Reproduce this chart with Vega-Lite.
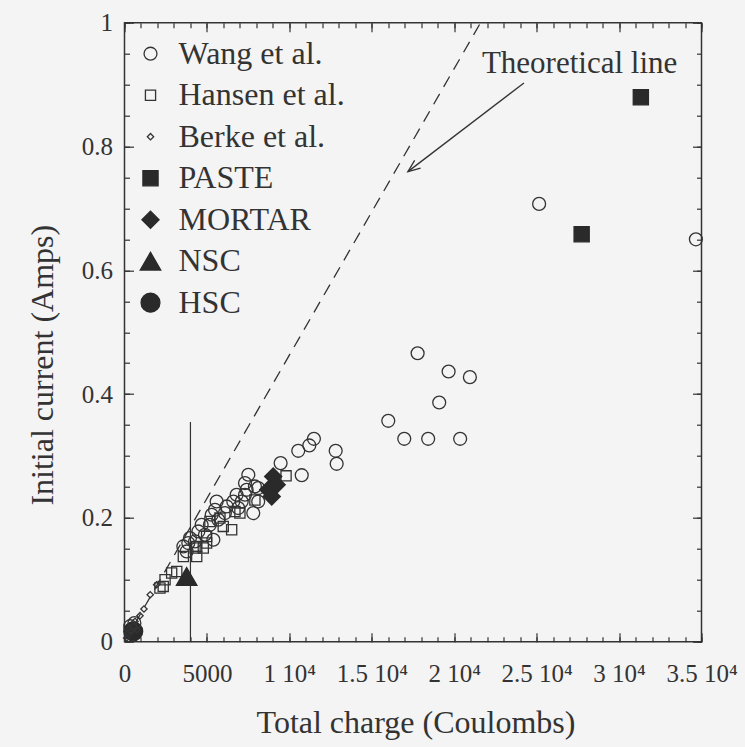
{
  "$schema": "https://vega.github.io/schema/vega-lite/v6.json",
  "width": 577,
  "height": 619,
  "autosize": {"type": "none"},
  "padding": {"left": 124.5, "top": 22.7, "right": 43.5, "bottom": 105.3},
  "background": "#f4f4f4",
  "config": {
    "view": {"stroke": "#333333", "strokeWidth": 1.5},
    "font": "Liberation Serif"
  },
  "datasets": {
    "points": [
      {"series": "HSC", "charge": 530, "current": 0.0166},
      {"series": "Berke et al.", "charge": 1560, "current": 0.0759},
      {"series": "Berke et al.", "charge": 1950, "current": 0.092},
      {"series": "Berke et al.", "charge": 1180, "current": 0.0528},
      {"series": "Berke et al.", "charge": 640, "current": 0.0328},
      {"series": "Berke et al.", "charge": 530, "current": 0.0247},
      {"series": "Berke et al.", "charge": 740, "current": 0.0194},
      {"series": "Berke et al.", "charge": 130, "current": 0.006},
      {"series": "Berke et al.", "charge": 210, "current": 0.013},
      {"series": "Berke et al.", "charge": 330, "current": 0.0226},
      {"series": "Berke et al.", "charge": 940, "current": 0.042},
      {"series": "Berke et al.", "charge": 390, "current": 0.016},
      {"series": "Wang et al.", "charge": 7510, "current": 0.2697},
      {"series": "Wang et al.", "charge": 7310, "current": 0.2563},
      {"series": "Wang et al.", "charge": 7910, "current": 0.2508},
      {"series": "Wang et al.", "charge": 7410, "current": 0.2454},
      {"series": "Wang et al.", "charge": 6800, "current": 0.2374},
      {"series": "Wang et al.", "charge": 7310, "current": 0.2374},
      {"series": "Wang et al.", "charge": 6600, "current": 0.2265},
      {"series": "Wang et al.", "charge": 7110, "current": 0.2265},
      {"series": "Wang et al.", "charge": 8110, "current": 0.2265},
      {"series": "Wang et al.", "charge": 5590, "current": 0.2265},
      {"series": "Wang et al.", "charge": 5490, "current": 0.2131},
      {"series": "Wang et al.", "charge": 6200, "current": 0.2185},
      {"series": "Wang et al.", "charge": 6900, "current": 0.2159},
      {"series": "Wang et al.", "charge": 7810, "current": 0.2078},
      {"series": "Wang et al.", "charge": 5290, "current": 0.2051},
      {"series": "Wang et al.", "charge": 6090, "current": 0.2078},
      {"series": "Wang et al.", "charge": 5690, "current": 0.197},
      {"series": "Wang et al.", "charge": 5180, "current": 0.1889},
      {"series": "Wang et al.", "charge": 4680, "current": 0.1889},
      {"series": "Wang et al.", "charge": 4480, "current": 0.1781},
      {"series": "Wang et al.", "charge": 5390, "current": 0.1647},
      {"series": "Wang et al.", "charge": 4880, "current": 0.1728},
      {"series": "Wang et al.", "charge": 3970, "current": 0.1674},
      {"series": "Wang et al.", "charge": 3870, "current": 0.1594},
      {"series": "Wang et al.", "charge": 4280, "current": 0.162},
      {"series": "Wang et al.", "charge": 3570, "current": 0.1539},
      {"series": "Wang et al.", "charge": 3770, "current": 0.1458},
      {"series": "Wang et al.", "charge": 9470, "current": 0.2885},
      {"series": "Wang et al.", "charge": 10540, "current": 0.3084},
      {"series": "Wang et al.", "charge": 10750, "current": 0.269},
      {"series": "Wang et al.", "charge": 11210, "current": 0.317},
      {"series": "Wang et al.", "charge": 11490, "current": 0.3278},
      {"series": "Wang et al.", "charge": 12810, "current": 0.3084},
      {"series": "Wang et al.", "charge": 12870, "current": 0.2874},
      {"series": "Wang et al.", "charge": 16000, "current": 0.3569},
      {"series": "Wang et al.", "charge": 16970, "current": 0.3278},
      {"series": "Wang et al.", "charge": 18420, "current": 0.3278},
      {"series": "Wang et al.", "charge": 20360, "current": 0.3278},
      {"series": "Wang et al.", "charge": 19090, "current": 0.3864},
      {"series": "Wang et al.", "charge": 17780, "current": 0.466},
      {"series": "Wang et al.", "charge": 19660, "current": 0.4365},
      {"series": "Wang et al.", "charge": 20950, "current": 0.4274},
      {"series": "Wang et al.", "charge": 25150, "current": 0.7073},
      {"series": "Wang et al.", "charge": 34660, "current": 0.65},
      {"series": "Wang et al.", "charge": 8110, "current": 0.2482},
      {"series": "Wang et al.", "charge": 350, "current": 0.025},
      {"series": "Wang et al.", "charge": 600, "current": 0.03},
      {"series": "Hansen et al.", "charge": 7000, "current": 0.2078},
      {"series": "Hansen et al.", "charge": 6700, "current": 0.2104},
      {"series": "Hansen et al.", "charge": 5790, "current": 0.1997},
      {"series": "Hansen et al.", "charge": 5180, "current": 0.1942},
      {"series": "Hansen et al.", "charge": 5990, "current": 0.1862},
      {"series": "Hansen et al.", "charge": 6500, "current": 0.1808},
      {"series": "Hansen et al.", "charge": 4980, "current": 0.17},
      {"series": "Hansen et al.", "charge": 4980, "current": 0.1594},
      {"series": "Hansen et al.", "charge": 4380, "current": 0.1539},
      {"series": "Hansen et al.", "charge": 4380, "current": 0.1377},
      {"series": "Hansen et al.", "charge": 3570, "current": 0.1377},
      {"series": "Hansen et al.", "charge": 3170, "current": 0.1135},
      {"series": "Hansen et al.", "charge": 2460, "current": 0.1001},
      {"series": "Hansen et al.", "charge": 2350, "current": 0.0893},
      {"series": "Hansen et al.", "charge": 9800, "current": 0.268},
      {"series": "Hansen et al.", "charge": 4280, "current": 0.1513},
      {"series": "Hansen et al.", "charge": 4780, "current": 0.1513},
      {"series": "Hansen et al.", "charge": 2150, "current": 0.0867},
      {"series": "Hansen et al.", "charge": 2860, "current": 0.1109},
      {"series": "Hansen et al.", "charge": 7910, "current": 0.229},
      {"series": "PASTE", "charge": 31320, "current": 0.8795},
      {"series": "PASTE", "charge": 27730, "current": 0.6583},
      {"series": "MORTAR", "charge": 9020, "current": 0.2669},
      {"series": "MORTAR", "charge": 9230, "current": 0.2535},
      {"series": "MORTAR", "charge": 8720, "current": 0.2454},
      {"series": "MORTAR", "charge": 8930, "current": 0.2346},
      {"series": "NSC", "charge": 3770, "current": 0.1054}
    ],
    "theory": [
      {"charge": 0, "current": 0},
      {"charge": 21600, "current": 1}
    ],
    "arrow": [
      {"charge": 24230, "current": 0.9026},
      {"charge": 17190, "current": 0.7594}
    ],
    "arrowhead": [
      {"charge": 17190, "current": 0.7594}
    ],
    "vline": [
      {"charge": 4000, "current": 0, "current2": 0.355}
    ],
    "note": [
      {"charge": 21680, "current": 0.918, "label": "Theoretical line"}
    ]
  },
  "layer": [
    {
      "data": {"name": "theory"},
      "mark": {"type": "line", "stroke": "#333333", "strokeWidth": 1.3, "strokeDash": [12, 8], "clip": true},
      "encoding": {
        "x": {
          "field": "charge", "type": "quantitative",
          "scale": {"domain": [0, 35000], "nice": false, "zero": false},
          "axis": {
            "orient": "top", "title": null, "labels": false, "grid": false, "domain": false,
            "tickSize": -5, "tickColor": "#333333", "tickWidth": 1.2,
            "values": [0,1000,2000,3000,4000,5000,6000,7000,8000,9000,10000,11000,12000,13000,14000,15000,16000,17000,18000,19000,20000,21000,22000,23000,24000,25000,26000,27000,28000,29000,30000,31000,32000,33000,34000,35000]
          }
        },
        "y": {
          "field": "current", "type": "quantitative",
          "scale": {"domain": [0, 1], "nice": false, "zero": false},
          "axis": {
            "orient": "right", "title": null, "labels": false, "grid": false, "domain": false,
            "tickSize": -5, "tickColor": "#333333", "tickWidth": 1.2,
            "values": [0,0.05,0.1,0.15,0.2,0.25,0.3,0.35,0.4,0.45,0.5,0.55,0.6,0.65,0.7,0.75,0.8,0.85,0.9,0.95,1]
          }
        }
      }
    },
    {
      "data": {"name": "vline"},
      "mark": {"type": "rule", "stroke": "#333333", "strokeWidth": 1.2},
      "encoding": {
        "x": {
          "field": "charge", "type": "quantitative",
          "axis": {"orient": "bottom", "title": null, "labels": false, "grid": false, "domain": false, "tickSize": -9, "tickColor": "#333333", "tickWidth": 1.2, "values": [0,5000,10000,15000,20000,25000,30000,35000]}
        },
        "y": {
          "field": "current", "type": "quantitative",
          "axis": {"orient": "left", "title": null, "labels": false, "grid": false, "domain": false, "tickSize": -9, "tickColor": "#333333", "tickWidth": 1.2, "values": [0,0.2,0.4,0.6,0.8,1]}
        },
        "y2": {"field": "current2"}
      }
    },
    {
      "data": {"name": "arrow"},
      "mark": {"type": "line", "stroke": "#333333", "strokeWidth": 1.3},
      "encoding": {
        "x": {
          "field": "charge", "type": "quantitative",
          "axis": {"orient": "top", "title": null, "labels": false, "grid": false, "domain": false, "tickSize": -9, "tickColor": "#333333", "tickWidth": 1.2, "values": [0,5000,10000,15000,20000,25000,30000,35000]}
        },
        "y": {
          "field": "current", "type": "quantitative",
          "axis": {"orient": "right", "title": null, "labels": false, "grid": false, "domain": false, "tickSize": -9, "tickColor": "#333333", "tickWidth": 1.2, "values": [0,0.2,0.4,0.6,0.8,1]}
        }
      }
    },
    {
      "data": {"name": "arrowhead"},
      "mark": {"type": "point", "shape": "M -1 -0.4 L 0 0 L -1 0.4", "filled": false, "stroke": "#333333", "strokeWidth": 1.3, "size": 600, "angle": 142.6, "opacity": 1},
      "encoding": {
        "x": {"field": "charge", "type": "quantitative", "axis": null},
        "y": {"field": "current", "type": "quantitative", "axis": null}
      }
    },
    {
      "data": {"name": "note"},
      "mark": {"type": "text", "align": "left", "baseline": "alphabetic", "font": "Liberation Serif", "fontSize": 31, "fill": "#333333"},
      "encoding": {
        "x": {"field": "charge", "type": "quantitative", "axis": null},
        "y": {"field": "current", "type": "quantitative", "axis": null},
        "text": {"field": "label"}
      }
    },
    {
      "data": {"name": "points"},
      "mark": {"type": "point", "filled": true, "strokeWidth": 1.3, "opacity": 1},
      "encoding": {
        "x": {
          "field": "charge", "type": "quantitative",
          "scale": {"domain": [0, 35000], "nice": false, "zero": false},
          "axis": {
            "orient": "bottom",
            "grid": false,
            "domain": false,
            "title": "Total charge (Coulombs)",
            "titleFont": "Liberation Serif",
            "titleFontWeight": "normal",
            "titleColor": "#333333",
            "titleFontSize": 32,
            "titleX": 291,
            "titleY": 91,
            "titleBaseline": "alphabetic",
            "titleAlign": "center",
            "labelFont": "Liberation Serif",
            "labelColor": "#333333",
            "labelFontSize": 25,
            "labelOverlap": false,
            "labelFlush": false,
            "tickSize": -5,
            "tickColor": "#333333",
            "tickWidth": 1.2,
            "labelPadding": 25,
            "values": [0,1000,2000,3000,4000,5000,6000,7000,8000,9000,10000,11000,12000,13000,14000,15000,16000,17000,18000,19000,20000,21000,22000,23000,24000,25000,26000,27000,28000,29000,30000,31000,32000,33000,34000,35000],
            "labelExpr": "datum.value % 5000 !== 0 ? '' : (datum.value === 0 ? '0' : (datum.value === 5000 ? '5000' : (datum.value / 10000) + ' 10⁴'))"
          }
        },
        "y": {
          "field": "current", "type": "quantitative",
          "scale": {"domain": [0, 1], "nice": false, "zero": false},
          "axis": {
            "orient": "left",
            "grid": false,
            "domain": false,
            "title": "Initial current (Amps)",
            "titleFont": "Liberation Serif",
            "titleFontWeight": "normal",
            "titleColor": "#333333",
            "titleFontSize": 32,
            "titleX": -82,
            "titleY": 342,
            "titleAngle": -90,
            "titleAlign": "center",
            "titleBaseline": "middle",
            "labelFont": "Liberation Serif",
            "labelColor": "#333333",
            "labelFontSize": 25,
            "labelOverlap": false,
            "labelFlush": false,
            "tickSize": -5,
            "tickColor": "#333333",
            "tickWidth": 1.2,
            "labelPadding": 17,
            "values": [0,0.05,0.1,0.15,0.2,0.25,0.3,0.35,0.4,0.45,0.5,0.55,0.6,0.65,0.7,0.75,0.8,0.85,0.9,0.95,1],
            "labelExpr": "round(datum.value * 20) % 4 === 0 ? '' + datum.value : ''"
          }
        },
        "size": {
          "field": "series", "type": "nominal",
          "scale": {
            "domain": ["Berke et al.", "Hansen et al.", "Wang et al.", "PASTE", "MORTAR", "HSC", "NSC"],
            "range": [40, 420]
          },
          "legend": {
            "title": null, "orient": "none", "legendX": 10, "legendY": 15,
            "values": ["Wang et al.", "Hansen et al.", "Berke et al.", "PASTE", "MORTAR", "NSC", "HSC"],
            "labelFont": "Liberation Serif", "labelFontSize": 32, "labelColor": "#333333",
            "labelOffset": 12, "rowPadding": 9.5, "labelLimit": 400,
            "symbolStrokeColor": "#333333", "symbolStrokeWidth": 1.3
          }
        },
        "shape": {
          "field": "series", "type": "nominal",
          "scale": {
            "domain": ["Berke et al.", "Hansen et al.", "Wang et al.", "PASTE", "MORTAR", "HSC", "NSC"],
            "range": ["diamond", "square", "circle", "square", "diamond", "circle", "triangle-up"]
          },
          "legend": {
            "title": null, "orient": "none", "legendX": 10, "legendY": 15,
            "values": ["Wang et al.", "Hansen et al.", "Berke et al.", "PASTE", "MORTAR", "NSC", "HSC"],
            "labelFont": "Liberation Serif", "labelFontSize": 32, "labelColor": "#333333",
            "labelOffset": 12, "rowPadding": 9.5, "labelLimit": 400,
            "symbolStrokeColor": "#333333", "symbolStrokeWidth": 1.3
          }
        },
        "fill": {
          "field": "series", "type": "nominal",
          "scale": {
            "domain": ["Berke et al.", "Hansen et al.", "Wang et al.", "PASTE", "MORTAR", "HSC", "NSC"],
            "range": ["transparent", "transparent", "transparent", "#2a2a2a", "#2a2a2a", "#2a2a2a", "#2a2a2a"]
          },
          "legend": {
            "title": null, "orient": "none", "legendX": 10, "legendY": 15,
            "values": ["Wang et al.", "Hansen et al.", "Berke et al.", "PASTE", "MORTAR", "NSC", "HSC"],
            "labelFont": "Liberation Serif", "labelFontSize": 32, "labelColor": "#333333",
            "labelOffset": 12, "rowPadding": 9.5, "labelLimit": 400,
            "symbolStrokeColor": "#333333", "symbolStrokeWidth": 1.3
          }
        },
        "stroke": {
          "field": "series", "type": "nominal",
          "scale": {
            "domain": ["Berke et al.", "Hansen et al.", "Wang et al.", "PASTE", "MORTAR", "HSC", "NSC"],
            "range": ["#333333", "#333333", "#333333", "#2a2a2a", "#2a2a2a", "#2a2a2a", "#2a2a2a"]
          },
          "legend": {
            "title": null, "orient": "none", "legendX": 10, "legendY": 15,
            "values": ["Wang et al.", "Hansen et al.", "Berke et al.", "PASTE", "MORTAR", "NSC", "HSC"],
            "labelFont": "Liberation Serif", "labelFontSize": 32, "labelColor": "#333333",
            "labelOffset": 12, "rowPadding": 9.5, "labelLimit": 400,
            "symbolStrokeWidth": 1.3
          }
        }
      }
    }
  ],
  "resolve": {"axis": {"x": "independent", "y": "independent"}}
}
